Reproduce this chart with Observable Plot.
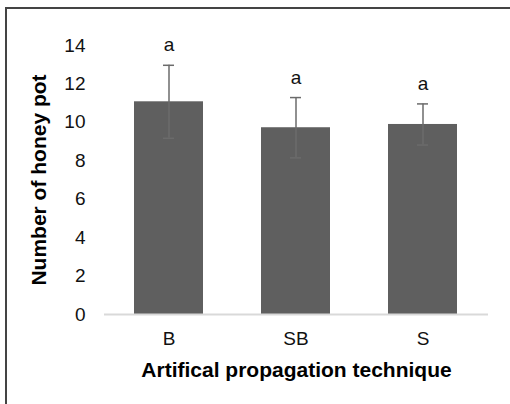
<!DOCTYPE html>
<html>
<head>
<meta charset="utf-8">
<script src="https://cdn.jsdelivr.net/npm/d3@7"></script>
<script src="https://cdn.jsdelivr.net/npm/@observablehq/plot@0.6"></script>
<style>
  html, body { margin: 0; padding: 0; background: #fff; }
  #wrap { position: relative; width: 510px; height: 404px; overflow: hidden; }
  #border { position: absolute; left: 5px; top: 7px; width: 600px; height: 500px;
            border-left: 2px solid #444; border-top: 2px solid #444; box-sizing: border-box; }
  #chart { position: absolute; left: 0; top: 0; }
  #chart svg text { font-family: Arial, "Liberation Sans", sans-serif; }
  g[aria-label="x-axis label"] text, g[aria-label="y-axis label"] text { font-weight: bold; font-size: 21px; fill: #000; }
</style>
</head>
<body>
<div id="wrap"><div id="border"></div><div id="chart"></div></div>
<script>
const categories = ["B", "SB", "S"];
const means = [11.07, 9.72, 9.89];
const errors = [1.9, 1.57, 1.07];
const letters = ["a", "a", "a"];
const yTicks = [0, 2, 4, 6, 8, 10, 12, 14];

const data = categories.map((c, i) => ({
  cat: c, mean: means[i], lo: means[i] - errors[i], hi: means[i] + errors[i], letter: letters[i]
}));

const chart = Plot.plot({
  width: 510,
  height: 404,
  marginLeft: 104,
  marginRight: 22,
  marginTop: 45,
  marginBottom: 90,
  style: { fontFamily: "Arial, 'Liberation Sans', sans-serif", color: "#000", background: "transparent" },
  x: { domain: categories, paddingInner: 0.453, paddingOuter: 0.227 },
  y: { domain: [0, 14] },
  marks: [
    Plot.axisY({ ticks: yTicks, tickSize: 0, tickPadding: 19, fontSize: 19, fill: "#111", label: "Number of honey pot", labelAnchor: "center", labelArrow: "none", labelOffset: 73 }),
    Plot.axisX({ tickSize: 0, tickPadding: 17, fontSize: 19, fill: "#111", label: "Artifical propagation technique", labelAnchor: "center", labelArrow: "none", labelOffset: 62 }),
    Plot.barY(data, { x: "cat", y: "mean", fill: "#5f5f5f" }),
    Plot.ruleY([0], { stroke: "#d9d9d9", strokeWidth: 2 }),
    Plot.ruleX(data, { x: "cat", y1: "lo", y2: "hi", stroke: "#6b6b6b", strokeWidth: 1.5 }),
    Plot.tickY(data, { x: "cat", y: "hi", stroke: "#6b6b6b", strokeWidth: 1.5, insetLeft: 29, insetRight: 29 }),
    Plot.tickY(data, { x: "cat", y: "lo", stroke: "#6b6b6b", strokeWidth: 1.5, insetLeft: 29, insetRight: 29 }),
    Plot.text(data, { x: "cat", y: "hi", text: "letter", dy: -20, fontSize: 19, fill: "#111" })
  ]
});
document.getElementById("chart").appendChild(chart);
</script>
</body>
</html>
